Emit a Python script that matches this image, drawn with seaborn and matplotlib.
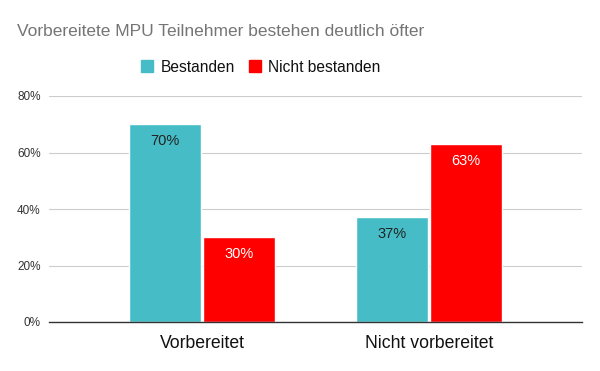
import matplotlib
matplotlib.use("Agg")
import matplotlib.pyplot as plt
import pandas as pd
import seaborn as sns

# Data
groups = ["Vorbereitet", "Nicht vorbereitet"]
series = ["Bestanden", "Nicht bestanden"]
bestanden = [70, 37]
nicht_bestanden = [30, 63]
colors = ["#46BDC6", "#FF0000"]
label_colors = ["#222222", "#FFFFFF"]

df = pd.DataFrame({
    "Gruppe": groups * 2,
    "Serie": [series[0]] * 2 + [series[1]] * 2,
    "Wert": bestanden + nicht_bestanden,
})

sns.set_style("white")
plt.rcParams["font.family"] = ["Liberation Sans", "DejaVu Sans"]

fig = plt.figure(figsize=(6, 3.71), dpi=100)
ax = fig.add_axes([49 / 600, 49 / 371, 533 / 600, 226 / 371])

sns.barplot(data=df, x="Gruppe", y="Wert", hue="Serie", order=groups,
            hue_order=series, palette=colors, width=0.655, gap=0.03,
            saturation=1, ax=ax, legend=False)

ax.set_xlim(-0.674, 1.674)
ax.set_ylim(0, 80)
ax.set_yticks([0, 20, 40, 60, 80])
ax.set_yticklabels([f"{v}%" for v in [0, 20, 40, 60, 80]], fontsize=8.5, color="#333333")
ax.tick_params(axis="y", length=0, pad=6)
ax.tick_params(axis="x", length=0, pad=9)
for lbl in ax.get_xticklabels():
    lbl.set_fontsize(12.7)
    lbl.set_color("#111111")
ax.set_xlabel("")
ax.set_ylabel("")
ax.yaxis.grid(True, color="#cccccc", linewidth=0.8)
ax.set_axisbelow(True)
for s in ["top", "right", "left"]:
    ax.spines[s].set_visible(False)
ax.spines["bottom"].set_color("#333333")
ax.spines["bottom"].set_linewidth(1)

# value labels inside bars
for i, cont in enumerate(ax.containers):
    ax.bar_label(cont, labels=[f"{v:.0f}%" for v in cont.datavalues],
                 label_type="edge", padding=-17, color=label_colors[i],
                 fontsize=10.5)

fig.text(17 / 600, 1 - 32 / 371, "Vorbereitete MPU Teilnehmer bestehen deutlich öfter",
         fontsize=12.5, color="#757575", va="center", ha="left")

handles = [plt.Rectangle((0, 0), 1, 1, color=c) for c in colors]
fig.legend(handles, series, loc="center", bbox_to_anchor=(261 / 600, 1 - 67 / 371),
           ncol=2, frameon=False, fontsize=11.2, handlelength=0.75,
           handleheight=0.75, handletextpad=0.5, columnspacing=0.9,
           labelcolor="#111111")

fig.savefig("out.png", dpi=100)
